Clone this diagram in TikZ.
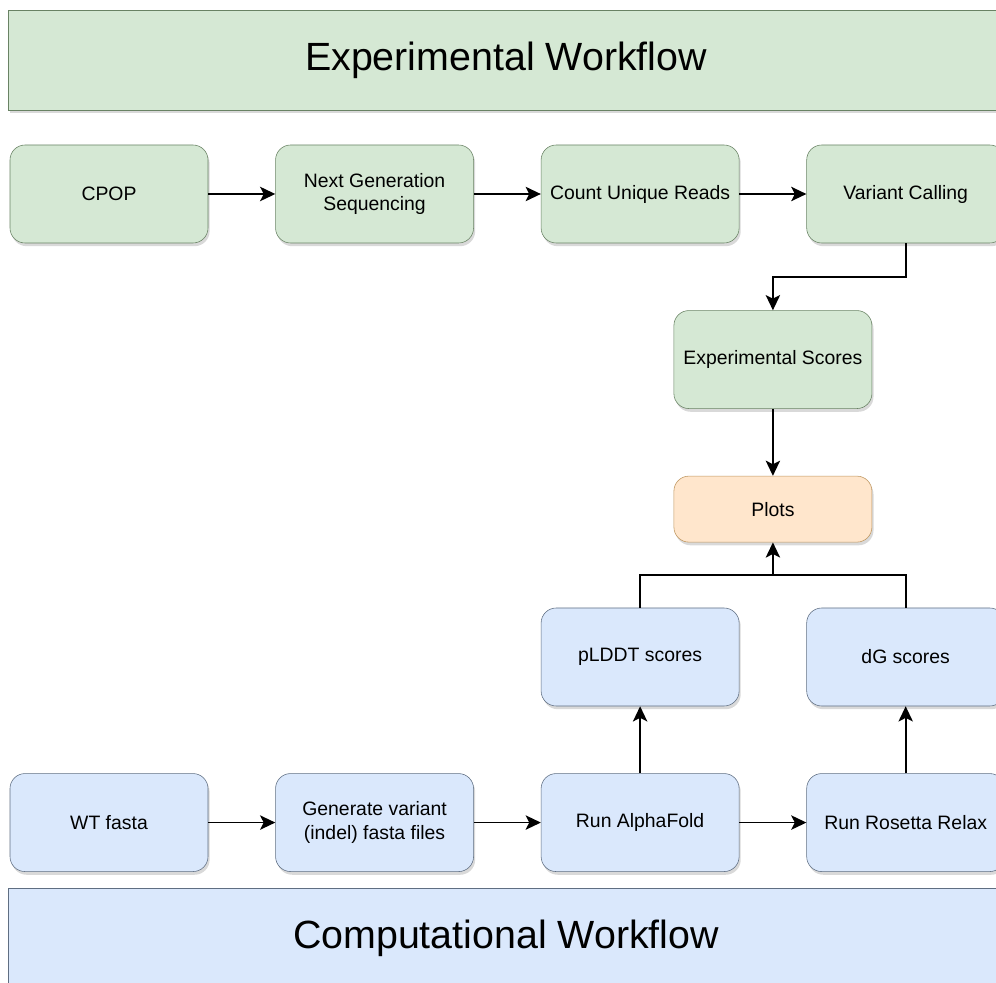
\documentclass[tikz,border=0pt]{standalone}
\usepackage{fontspec}
\setmainfont{Liberation Sans}
\usetikzlibrary{positioning, calc, shadows, arrows.meta}

\definecolor{expfill}{RGB}{213,232,212}
\definecolor{expline}{RGB}{105,130,100}
\definecolor{compfill}{RGB}{218,232,252}
\definecolor{compline}{RGB}{95,110,130}
\definecolor{plotfill}{RGB}{255,230,204}
\definecolor{plotline}{RGB}{190,150,95}

\begin{document}
\begin{tikzpicture}[node distance=1.675cm]

        % Define styles for each type of node
        \tikzstyle{banner} = [rectangle, minimum width=24.9cm, minimum height=2.5cm, text centered, font=\fontsize{28}{32}\selectfont, drop shadow={opacity=0.3, shadow xshift=0.04cm, shadow yshift=-0.08cm}]
        \tikzstyle{expbox} = [rectangle, rounded corners=0.375cm, minimum width=4.95cm, minimum height=2.45cm, align=center, font=\fontsize{13.8}{17}\selectfont, draw=expline, fill=expfill, drop shadow={opacity=0.3, shadow xshift=0.04cm, shadow yshift=-0.08cm}]
        \tikzstyle{compbox} = [expbox, draw=compline, fill=compfill]
        \tikzstyle{plotbox} = [expbox, minimum height=1.65cm, draw=plotline, fill=plotfill]

        % Define arrow style
        \tikzstyle{line} = [line width=1.2pt]
        \tikzstyle{arrow} = [line, -{Stealth[length=3.8mm, width=3.6mm, inset=0.9mm]}]

        \useasboundingbox (0,0) rectangle (24.9,-24.575);
        \clip (0,0) rectangle (24.9,-24.575);

        % Banners
        \node (exptitle) [banner, draw=expline, fill=expfill] at (12.65,-1.5) {Experimental Workflow};
        \node (comptitle) [banner, draw=compline, fill=compfill] at (12.65,-23.45) {Computational Workflow};

        % Experimental nodes
        \node (cpop) [expbox] at (2.725,-4.85) {CPOP};
        \node (ngs) [expbox, right=of cpop] {Next Generation\\Sequencing};
        \node (count) [expbox, right=of ngs] {Count Unique Reads};
        \node (variant) [expbox, right=of count] {Variant Calling};
        \coordinate (split) at ($(count.south)!0.5!(variant.south)$);
        \node (expscores) [expbox, below=of split] {Experimental Scores};
        \node (plots) [plotbox, below=of expscores] {Plots};

        % Computational nodes
        \node (wt) [compbox, below=13.25cm of cpop] {WT fasta};
        \node (genvar) [compbox, right=of wt] {Generate variant\\(indel) fasta files};
        \node (alphafold) [compbox, right=of genvar] {Run AlphaFold};
        \node (rosetta) [compbox, right=of alphafold] {Run Rosetta Relax};
        \node (plddt) [compbox, above=of alphafold] {pLDDT scores};
        \node (dg) [compbox, above=of rosetta] {dG scores};
        \coordinate (merge) at ($(plots.south)!0.5!(plots.south |- plddt.north)$);

        % Arrows
        \draw [arrow] (cpop) -- (ngs);
        \draw [arrow] (ngs) -- (count);
        \draw [arrow] (count) -- (variant);
        \draw [arrow] (variant.south) -- ++(0,-0.8375) -| (expscores.north);
        \draw [arrow] (expscores) -- (plots);

        \draw [arrow] (wt) -- (genvar);
        \draw [arrow] (genvar) -- (alphafold);
        \draw [arrow] (alphafold) -- (rosetta);
        \draw [arrow] (alphafold) -- (plddt);
        \draw [arrow] (rosetta) -- (dg);

        % Scores merge into plots
        \draw [line] (plddt.north) |- (merge) -| (dg.north);
        \draw [arrow] (merge) -- (plots.south);

    \end{tikzpicture}
\end{document}
